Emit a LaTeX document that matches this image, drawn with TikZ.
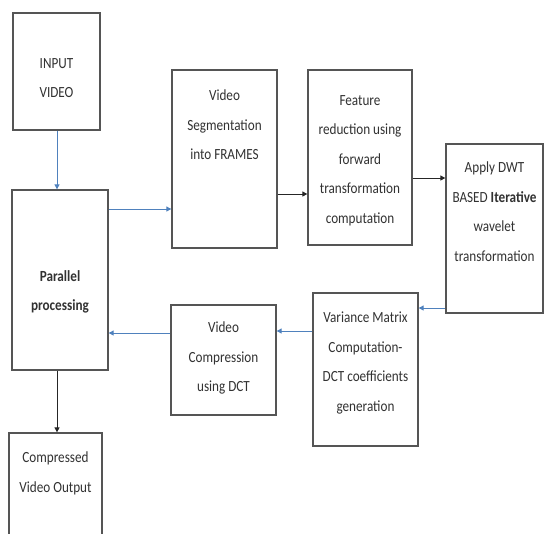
\documentclass[tikz,border=0pt]{standalone}
\usepackage{fontspec}
\setmainfont[FakeStretch=0.85]{Carlito}
\usetikzlibrary{arrows.meta}
\definecolor{linkblue}{RGB}{79,129,189}
\definecolor{edge}{RGB}{85,85,85}
\definecolor{ink}{RGB}{50,50,50}
\tikzset{
  box/.style={draw=edge, line width=1.3pt, rectangle, inner sep=0pt, fill=white},
  txt/.style={anchor=north, align=center, inner sep=0pt, text=ink,
    font=\fontsize{15.5}{29.5}\selectfont},
  bluearrow/.style={draw=linkblue, line width=0.9pt, -{Triangle[length=5pt,width=5pt]}},
  blackarrow/.style={draw=black!85, line width=1pt, -{Triangle[length=5pt,width=5pt]}}
}
\begin{document}
\begin{tikzpicture}[x=1pt,y=-1pt]
\useasboundingbox (0,0) rectangle (545,533);

% blocks
\node[box, minimum width=87,  minimum height=117] (input) at (56.5,71.5) {};
\node[box, minimum width=96,  minimum height=180] (par)   at (60,280) {};
\node[box, minimum width=93,  minimum height=107] (out)   at (55.5,486.5) {};
\node[box, minimum width=105, minimum height=178] (seg)   at (224.5,159) {};
\node[box, minimum width=104, minimum height=175] (feat)  at (360,157.5) {};
\node[box, minimum width=97,  minimum height=169] (dwt)   at (494.5,228.5) {};
\node[box, minimum width=105, minimum height=153] (var)   at (365.5,369.5) {};
\node[box, minimum width=105, minimum height=110] (comp)  at (223.5,360) {};

% block texts
\node[txt] (input-t) at (56.5,58) {INPUT\\VIDEO};
\node[txt] (par-t)   at (60,270) {\bfseries Parallel\\\bfseries processing};
\node[txt] (out-t)   at (55.5,452) {Compressed\\Video Output};
\node[txt] (seg-t)   at (224.5,90) {Video\\Segmentation\\into FRAMES};
\node[txt] (feat-t)  at (360,95) {Feature\\reduction using\\forward\\transformation\\computation};
\node[txt] (dwt-t)   at (494.5,162) {Apply DWT\\BASED \textbf{Iterative}\\wavelet\\transformation};
\node[txt] (var-t)   at (365.5,312) {Variance Matrix\\Computation-\\DCT coefficients\\generation};
\node[txt] (comp-t)  at (223.5,322) {Video\\Compression\\using DCT};

% connectors
\draw[bluearrow]  ([xshift=0.5pt]input.south) -- ([xshift=0.5pt]input.south |- par.north);
\draw[bluearrow]  (par.east |- 0,209) -- (seg.west |- 0,209);
\draw[blackarrow] (seg.east |- 0,194) -- (feat.west |- 0,194);
\draw[blackarrow] (feat.east |- 0,178) -- (dwt.west |- 0,178);
\draw[bluearrow]  (dwt.west |- 0,308) -- (var.east |- 0,308);
\draw[bluearrow]  (var.west |- 0,331) -- (comp.east |- 0,331);
\draw[bluearrow]  (comp.west |- 0,333) -- (par.east |- 0,333);
\draw[blackarrow] ([xshift=-3pt]par.south) -- ([xshift=-3pt]par.south |- out.north);
\end{tikzpicture}
\end{document}
